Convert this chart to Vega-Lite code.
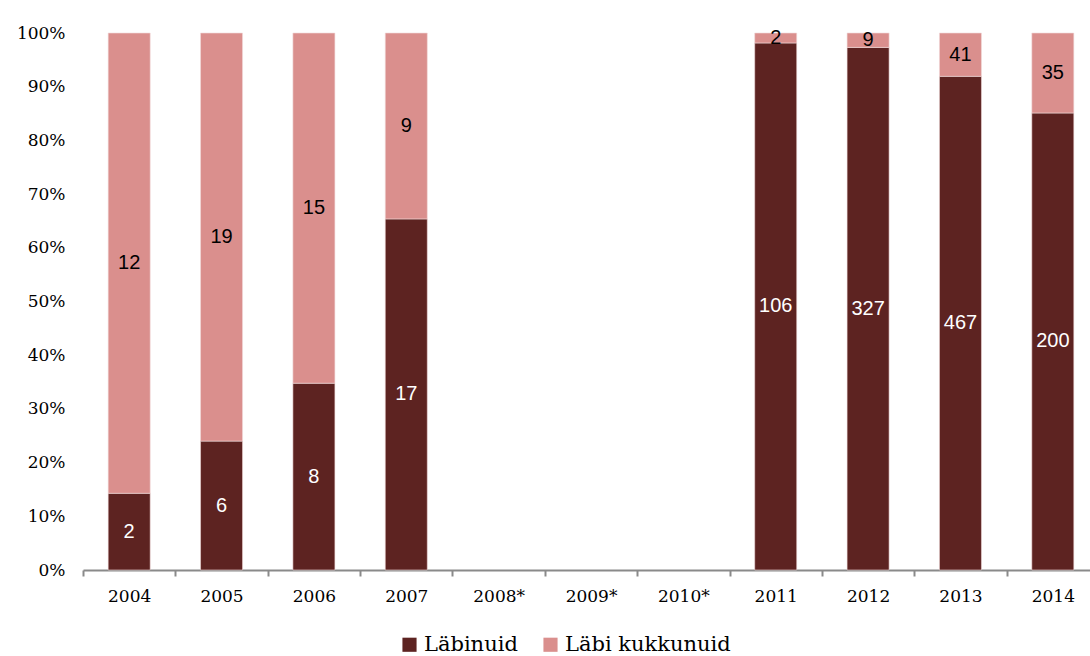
{
  "$schema": "https://vega.github.io/schema/vega-lite/v6.json",
  "autosize": "none",
  "width": 1007,
  "height": 537,
  "padding": {"left": 83, "top": 33, "right": 0, "bottom": 86},
  "background": "white",
  "config": {"view": {"stroke": null}},
  "data": {
    "values": [
      {"year": "2004", "series": "Läbinuid", "ord": 1, "count": 2},
      {"year": "2004", "series": "Läbi kukkunuid", "ord": 2, "count": 12},
      {"year": "2005", "series": "Läbinuid", "ord": 1, "count": 6},
      {"year": "2005", "series": "Läbi kukkunuid", "ord": 2, "count": 19},
      {"year": "2006", "series": "Läbinuid", "ord": 1, "count": 8},
      {"year": "2006", "series": "Läbi kukkunuid", "ord": 2, "count": 15},
      {"year": "2007", "series": "Läbinuid", "ord": 1, "count": 17},
      {"year": "2007", "series": "Läbi kukkunuid", "ord": 2, "count": 9},
      {"year": "2011", "series": "Läbinuid", "ord": 1, "count": 106},
      {"year": "2011", "series": "Läbi kukkunuid", "ord": 2, "count": 2},
      {"year": "2012", "series": "Läbinuid", "ord": 1, "count": 327},
      {"year": "2012", "series": "Läbi kukkunuid", "ord": 2, "count": 9},
      {"year": "2013", "series": "Läbinuid", "ord": 1, "count": 467},
      {"year": "2013", "series": "Läbi kukkunuid", "ord": 2, "count": 41},
      {"year": "2014", "series": "Läbinuid", "ord": 1, "count": 200},
      {"year": "2014", "series": "Läbi kukkunuid", "ord": 2, "count": 35}
    ]
  },
  "transform": [
    {"stack": "count", "groupby": ["year"], "sort": [{"field": "ord", "order": "ascending"}], "offset": "normalize", "as": ["y0", "y1"]},
    {"calculate": "(datum.y0 + datum.y1) / 2", "as": "ymid"}
  ],
  "encoding": {
    "x": {
      "field": "year",
      "type": "nominal",
      "sort": null,
      "scale": {
        "domain": ["2004", "2005", "2006", "2007", "2008*", "2009*", "2010*", "2011", "2012", "2013", "2014"],
        "range": [0, 1016],
        "paddingInner": 0.545,
        "paddingOuter": 0.2725
      },
      "axis": {
        "title": null,
        "labelAngle": 0,
        "labelFont": "DejaVu Serif",
        "labelFontSize": 17,
        "labelColor": "#000000",
        "labelPadding": 12,
        "domainColor": "#8a8a8a",
        "domainWidth": 2,
        "tickColor": "#8a8a8a",
        "tickWidth": 2,
        "tickSize": 6,
        "tickBand": "center",
        "tickOffset": -46.18,
        "labelOffset": 46.18
      }
    }
  },
  "layer": [
    {
      "mark": {"type": "bar", "stroke": "#f2dcdb", "strokeWidth": 0.6},
      "encoding": {
        "y": {
          "field": "y0",
          "type": "quantitative",
          "scale": {"domain": [0, 1]},
          "axis": {
            "title": null,
            "format": ".0%",
            "values": [0, 0.1, 0.2, 0.3, 0.4, 0.5, 0.6, 0.7, 0.8, 0.9, 1],
            "grid": false,
            "domain": false,
            "ticks": false,
            "labelFont": "DejaVu Serif",
            "labelFontSize": 17,
            "labelColor": "#000000",
            "labelPadding": 18
          }
        },
        "y2": {"field": "y1"},
        "color": {
          "field": "series",
          "type": "nominal",
          "sort": ["Läbinuid", "Läbi kukkunuid"],
          "scale": {"domain": ["Läbinuid", "Läbi kukkunuid"], "range": ["#5d2321", "#da8f8d"]},
          "legend": {
            "title": null,
            "orient": "none",
            "direction": "horizontal",
            "legendX": 316,
            "legendY": 601,
            "symbolType": "square",
            "symbolSize": 200,
            "symbolStrokeWidth": 0,
            "labelFont": "DejaVu Serif",
            "labelFontSize": 21,
            "labelColor": "#000000",
            "labelLimit": 400,
            "columnPadding": 22,
            "labelOffset": 4
          }
        }
      }
    },
    {
      "mark": {"type": "text", "font": "Liberation Sans", "fontSize": 20, "baseline": "middle", "align": "center"},
      "encoding": {
        "y": {"field": "ymid", "type": "quantitative"},
        "text": {"field": "count", "type": "quantitative"},
        "color": {
          "field": "series",
          "type": "nominal",
          "scale": {"domain": ["Läbinuid", "Läbi kukkunuid"], "range": ["#ffffff", "#000000"]},
          "legend": null
        }
      }
    }
  ],
  "resolve": {"scale": {"color": "independent"}}
}
